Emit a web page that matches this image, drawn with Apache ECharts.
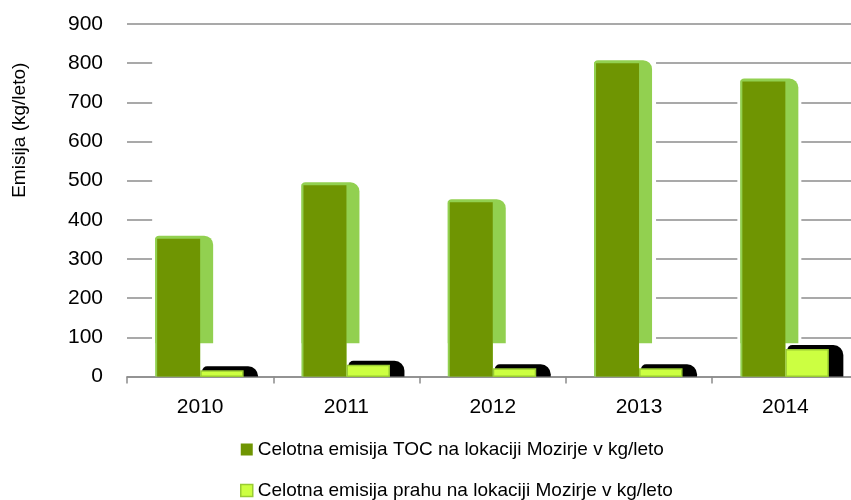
<!DOCTYPE html>
<html>
<head>
<meta charset="utf-8">
<script src="https://cdn.jsdelivr.net/npm/echarts@6/dist/echarts.min.js"></script>
<style>
  html, body { margin: 0; padding: 0; background: #fff; }
  #chart { width: 851px; height: 500px; }
</style>
</head>
<body>
<div id="chart"></div>
<script>
var years = ['2010', '2011', '2012', '2013', '2014'];
var tocValues = [352, 488, 445, 800, 753];
var dustValues = [16, 30, 21, 21, 70];
var tocName = 'Celotna emisija TOC na lokaciji Mozirje v kg/leto';
var dustName = 'Celotna emisija prahu na lokaciji Mozirje v kg/leto';
var yTicks = { min: 0, max: 900, interval: 100 };

var FONT = "'Liberation Sans', Arial, sans-serif";
var DARK = '#6f9502';
var SIDE = '#92d050';
var LIME = '#ccff41';
var LIME_BORDER = '#99cc33';

// back wall of the old 3d chart hides part of the gridlines
function renderMask(params, api) {
  var a = api.coord([api.value(0), api.value(1)]);
  var b = api.coord([api.value(2), api.value(3)]);
  return {
    type: 'rect',
    shape: { x: a[0] - 48, y: a[1], width: b[0] + 17 - (a[0] - 48), height: b[1] - a[1] },
    style: { fill: '#fff' }
  };
}

function renderToc(params, api) {
  var top = api.coord([api.value(0), api.value(1)]);
  var base = api.coord([api.value(0), 0]);
  var sideEnd = api.coord([api.value(0), 85]);
  var cx = top[0];
  return {
    type: 'group',
    children: [
      {
        type: 'rect',
        shape: { x: cx - 48, y: top[1] - 6, width: 64, height: sideEnd[1] - top[1] + 6 },
        style: { fill: '#fff' }
      },
      {
        type: 'rect',
        shape: { x: cx - 45, y: top[1] - 3, width: 58, height: sideEnd[1] - top[1] + 3, r: [4, 9, 0, 0] },
        style: { fill: SIDE }
      },
      {
        type: 'rect',
        shape: { x: cx - 45, y: top[1] - 1, width: 45, height: base[1] - top[1] + 1 },
        style: { fill: SIDE }
      },
      {
        type: 'rect',
        shape: { x: cx - 43, y: top[1], width: 43, height: base[1] - top[1] },
        style: { fill: DARK }
      }
    ]
  };
}

function renderDust(params, api) {
  var top = api.coord([api.value(0), api.value(1)]);
  var base = api.coord([api.value(0), 0]);
  var cx = top[0];
  return {
    type: 'group',
    children: [
      {
        type: 'rect',
        shape: { x: cx + 2, y: top[1] - 4, width: 56, height: base[1] - top[1] + 4, r: [5, 10, 0, 0] },
        style: { fill: '#000' }
      },
      {
        type: 'rect',
        shape: { x: cx + 0.75, y: top[1] + 0.75, width: 42, height: base[1] - top[1] - 1 },
        style: { fill: LIME, stroke: LIME_BORDER, lineWidth: 1.5 }
      }
    ]
  };
}

var chart = echarts.init(document.getElementById('chart'));
var option = {
  animation: false,
  textStyle: { fontFamily: FONT },
  grid: { left: 127, right: -7.5, top: 24, bottom: 123.5, outerBoundsMode: 'none' },
  legend: {
    orient: 'vertical',
    left: 240,
    top: 440,
    padding: 0,
    itemWidth: 12,
    itemHeight: 12,
    itemGap: 22,
    icon: 'rect',
    textStyle: { fontFamily: FONT, fontSize: 19, color: '#000', lineHeight: 19 },
    data: [
      { name: tocName, itemStyle: { color: DARK } },
      { name: dustName, itemStyle: { color: LIME, borderColor: LIME_BORDER, borderWidth: 1.5 } }
    ]
  },
  xAxis: {
    type: 'category',
    data: years,
    axisLine: { lineStyle: { color: '#8c8c8c', width: 1.5 } },
    axisTick: { show: true, length: 7, lineStyle: { color: '#8c8c8c', width: 1.5 } },
    axisLabel: { fontFamily: FONT, fontSize: 21, color: '#000', margin: 20 }
  },
  yAxis: {
    type: 'value',
    min: yTicks.min,
    max: yTicks.max,
    interval: yTicks.interval,
    name: 'Emisija (kg/leto)',
    nameLocation: 'middle',
    nameGap: 98,
    nameTextStyle: { fontFamily: FONT, fontSize: 19, color: '#000', padding: [0, 0, 0, 140] },
    axisLine: { show: false },
    axisTick: { show: false },
    axisLabel: { fontFamily: FONT, fontSize: 21, color: '#000', margin: 24 },
    splitLine: { lineStyle: { color: '#8c8c8c', width: 1.5 } }
  },
  series: [
    {
      name: 'mask',
      type: 'custom',
      silent: true,
      renderItem: renderMask,
      encode: { x: [0, 2], y: [1, 3] },
      data: [[0, 880, 3, 20]],
      z: 1
    },
    {
      name: tocName,
      type: 'custom',
      itemStyle: { color: DARK },
      renderItem: renderToc,
      data: tocValues.map(function(v, i) { return [i, v]; }),
      z: 2
    },
    {
      name: dustName,
      type: 'custom',
      itemStyle: { color: LIME },
      renderItem: renderDust,
      data: dustValues.map(function(v, i) { return [i, v]; }),
      z: 3
    }
  ]
};
chart.setOption(option);
</script>
</body>
</html>
